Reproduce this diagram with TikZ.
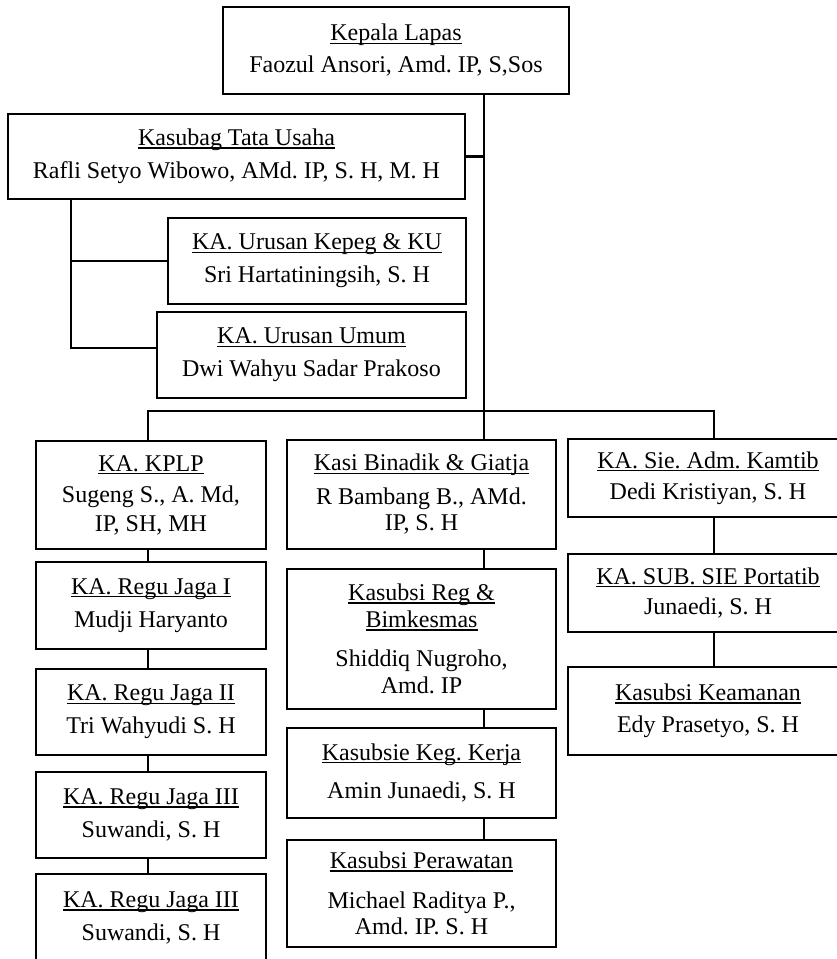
\documentclass[tikz,border=0pt]{standalone}
\usepackage{fontspec}
\setmainfont{Liberation Serif}
\newcommand\myul[1]{\setbox0=\hbox{#1}\rlap{\rule[-3pt]{\wd0}{1.3pt}}\box0}
\tikzset{
  box/.style={draw, line width=2.3pt, rectangle, align=center, inner sep=0pt,
    font=\fontsize{24}{27}\selectfont},
  link/.style={line width=2.3pt}
}
\begin{document}
\frenchspacing
\begin{tikzpicture}[x=1pt,y=-1pt]
\useasboundingbox (0,0) rectangle (837,959);
\clip (0,0) rectangle (837,959);
\fill[white] (0,0) rectangle (837,959);

% top part
\node[box, minimum width=346, minimum height=87] (kepala) at (396,50.5)
  {\myul{Kepala Lapas}\\[5pt] Faozul Ansori, Amd. IP, S,Sos};
\node[box, minimum width=457, minimum height=85] (kasubag) at (236.5,156.5)
  {\myul{Kasubag Tata Usaha}\\[6pt] Rafli Setyo Wibowo, AMd. IP, S. H, M. H};
\node[box, minimum width=298, minimum height=86] (kepeg) at (317,261)
  {\myul{KA. Urusan Kepeg \& KU}\\[6pt] Sri Hartatiningsih, S. H};
\node[box, minimum width=309, minimum height=86] (umum) at (311.5,355)
  {\myul{KA. Urusan Umum}\\[6pt] Dwi Wahyu Sadar Prakoso};

% left column
\node[box, minimum width=230, minimum height=108] (kplp) at (151,495)
  {\myul{KA. KPLP}\\[4pt] Sugeng S., A. Md,\\[2pt] IP, SH, MH};
\node[box, minimum width=230, minimum height=87] (regu1) at (151,605.5)
  {\myul{KA. Regu Jaga I}\\[6pt] Mudji Haryanto};
\node[box, minimum width=230, minimum height=86] (regu2) at (151,712)
  {\myul{KA. Regu Jaga II}\\[6pt] Tri Wahyudi S. H};
\node[box, minimum width=230, minimum height=86] (regu3) at (151,815)
  {\myul{KA. Regu Jaga III}\\[6pt] Suwandi, S. H};
\node[box, minimum width=230, minimum height=88] (regu3b) at (151,918)
  {\myul{KA. Regu Jaga III}\\[6pt] Suwandi, S. H};

% middle column
\node[box, minimum width=269, minimum height=109] (kasi) at (421.5,494.5)
  {\myul{Kasi Binadik \& Giatja}\\[7pt] R Bambang B., AMd.\\[-1pt] IP, S. H};
\node[box, minimum width=269, minimum height=140] (reg) at (421.5,639)
  {\myul{Kasubsi Reg \&}\\ \myul{Bimkesmas}\\[12pt] Shiddiq Nugroho,\\ Amd. IP};
\node[box, minimum width=269, minimum height=90] (keg) at (421.5,773)
  {\myul{Kasubsie Keg. Kerja}\\[11pt] Amin Junaedi, S. H};
\node[box, minimum width=269, minimum height=107] (rawat) at (421.5,893.5)
  {\myul{Kasubsi Perawatan}\\[13pt] Michael Raditya P.,\\[-1pt] Amd. IP. S. H};

% right column
\node[box, minimum width=280, minimum height=78] (sie) at (708,478)
  {\myul{KA. Sie. Adm. Kamtib}\\[4pt] Dedi Kristiyan, S. H};
\node[box, minimum width=280, minimum height=78] (sub) at (708,593)
  {\myul{KA. SUB. SIE Portatib}\\[3pt] Junaedi, S. H};
\node[box, minimum width=280, minimum height=88] (aman) at (708,711)
  {\myul{Kasubsi Keamanan}\\[5pt] Edy Prasetyo, S. H};

% connector guides
\coordinate (mx) at (484,0);
\coordinate (lx) at (148,0);
\coordinate (rx) at (714,0);
\coordinate (bx) at (71,0);
\coordinate (hy) at (0,411);
\coordinate (b2) at (71,348);

% connectors
\draw[link] (kepala.south -| mx) -- (kasi.north -| mx);
\draw[link] (kasubag.east) -- (kasubag.east -| mx);
\draw[link] (kasubag.south -| bx) -- (b2) -- (b2 -| umum.west);
\draw[link] (kepeg.west) -- (kepeg.west -| bx);
\draw[link] (lx |- kplp.north) -- (lx |- hy) -- (rx |- hy) -- (rx |- sie.north);

\foreach \a/\b in {kplp/regu1, regu1/regu2, regu2/regu3, regu3/regu3b}
  \draw[link] (lx |- \a.south) -- (lx |- \b.north);
\foreach \a/\b in {kasi/reg, reg/keg, keg/rawat}
  \draw[link] (mx |- \a.south) -- (mx |- \b.north);
\foreach \a/\b in {sie/sub, sub/aman}
  \draw[link] (rx |- \a.south) -- (rx |- \b.north);
\end{tikzpicture}
\end{document}
